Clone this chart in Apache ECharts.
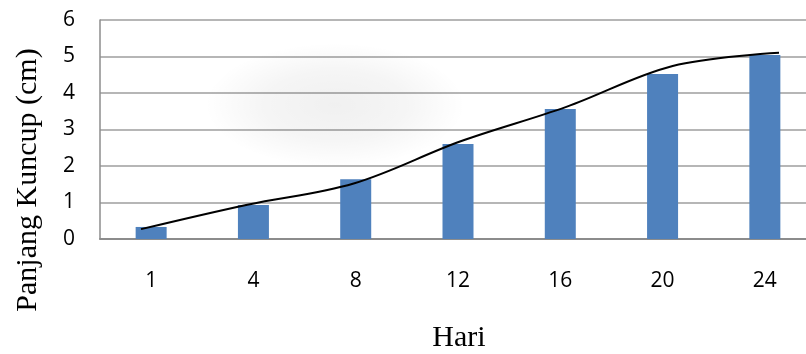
<!DOCTYPE html>
<html>
<head>
<meta charset="utf-8">
<script src="https://cdn.jsdelivr.net/npm/echarts@6/dist/echarts.min.js"></script>
<style>
  html, body { margin: 0; padding: 0; background: #fff; }
  #chart { width: 806px; height: 354px; }
</style>
</head>
<body>
<div id="chart"></div>
<script>
// Bud length (cm) measured on each observation day
const days = ['1', '4', '8', '12', '16', '20', '24'];
const budLength = [0.33, 0.93, 1.64, 2.6, 3.56, 4.52, 5.04];
// Smoothed growth curve drawn over the bars
const curveLength = [0.27, 0.94, 1.52, 2.67, 3.62, 4.74, 5.1];
const yTicks = [0, 1, 2, 3, 4, 5, 6];

const chart = echarts.init(document.getElementById('chart'), null, { renderer: 'canvas' });

const labelFont = '"Liberation Sans Narrow", "Open Sans", sans-serif';
const titleFont = '"Liberation Serif", "DejaVu Serif", serif';
const yMin = yTicks[0];
const yMax = yTicks[yTicks.length - 1];

chart.setOption({
  animation: false,
  backgroundColor: '#ffffff',
  grid: [
    // the plot area runs a little past the right edge of the canvas
    { left: 100, width: 716, top: 20, height: 219, outerBoundsMode: 'none', containLabel: false },
    { left: 141, width: 638, top: 20, height: 219, outerBoundsMode: 'none', containLabel: false }
  ],
  xAxis: [
    {
      type: 'category',
      gridIndex: 0,
      data: days,
      axisLine: { show: true, lineStyle: { color: '#8c8c8c', width: 2 } },
      axisTick: { show: false },
      axisLabel: { color: '#000', fontSize: 21, fontFamily: labelFont, margin: 32 },
      splitLine: { show: false }
    },
    {
      type: 'category',
      gridIndex: 1,
      data: days,
      boundaryGap: false,
      show: false
    }
  ],
  yAxis: [
    {
      type: 'value',
      gridIndex: 0,
      min: yMin,
      max: yMax,
      interval: 1,
      axisLine: { show: true, lineStyle: { color: '#8c8c8c', width: 1.5 } },
      axisTick: { show: false },
      axisLabel: { color: '#000', fontSize: 21, fontFamily: labelFont, margin: 25 },
      splitLine: { show: true, lineStyle: { color: '#9e9e9e', width: 1.5 } }
    },
    {
      type: 'value',
      gridIndex: 1,
      min: yMin,
      max: yMax,
      interval: 1,
      show: false,
      splitLine: { show: false }
    }
  ],
  graphic: [
    {
      // faint soft smudge over the upper-left part of the plot
      type: 'circle',
      x: 335, y: 105,
      scaleX: 2.1,
      shape: { cx: 0, cy: 0, r: 62 },
      style: {
        fill: {
          type: 'radial', x: 0.5, y: 0.5, r: 0.5,
          colorStops: [
            { offset: 0, color: 'rgba(0,0,0,0.06)' },
            { offset: 0.55, color: 'rgba(0,0,0,0.04)' },
            { offset: 1, color: 'rgba(0,0,0,0)' }
          ]
        }
      },
      z: 10,
      silent: true
    },
    {
      type: 'text',
      x: 459, y: 338,
      style: {
        text: 'Hari', fill: '#000',
        font: '30px ' + titleFont,
        align: 'center', verticalAlign: 'middle'
      }
    },
    {
      type: 'text',
      x: 28, y: 180,
      rotation: Math.PI / 2,
      style: {
        text: 'Panjang Kuncup (cm)', fill: '#000',
        font: '30px ' + titleFont,
        align: 'center', verticalAlign: 'middle'
      }
    }
  ],
  series: [
    {
      type: 'bar',
      xAxisIndex: 0,
      yAxisIndex: 0,
      data: budLength,
      barWidth: 31,
      itemStyle: { color: '#4f81bd' },
      z: 2
    },
    {
      type: 'line',
      xAxisIndex: 1,
      yAxisIndex: 1,
      data: curveLength,
      smooth: 0.35,
      symbol: 'none',
      lineStyle: { color: '#000', width: 2 },
      z: 3
    }
  ]
});
</script>
</body>
</html>
